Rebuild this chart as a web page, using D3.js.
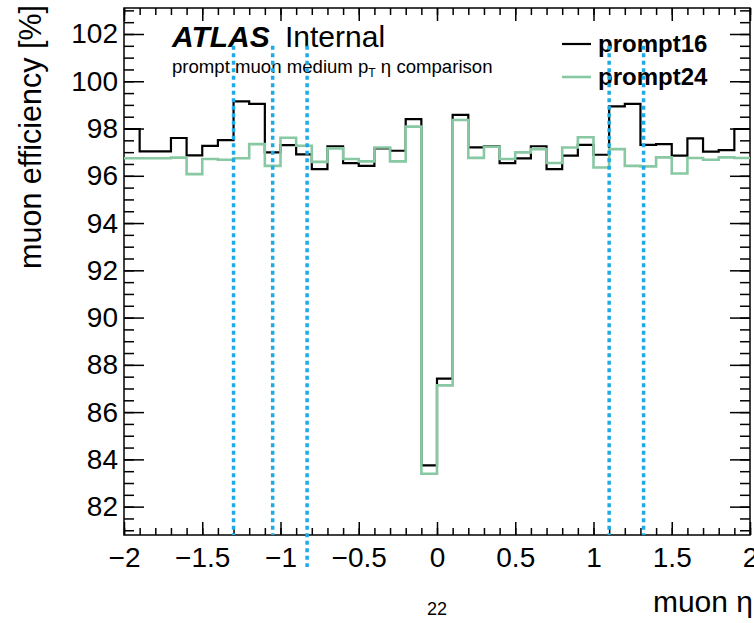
<!DOCTYPE html>
<html>
<head>
<meta charset="utf-8">
<script src="https://cdn.jsdelivr.net/npm/d3@7"></script>
<style>
body { margin: 0; background: white; }
text { font-family: "Liberation Sans", Arial, Helvetica, sans-serif; }
</style>
</head>
<body>
<svg id="svg"></svg>
<script>
// bins of muon eta (low edges, width 0.1)
var binLow = [-2.0, -1.9, -1.8, -1.7, -1.6, -1.5, -1.4, -1.3, -1.2, -1.1,
              -1.0, -0.9, -0.8, -0.7, -0.6, -0.5, -0.4, -0.3, -0.2, -0.1,
               0.0,  0.1,  0.2,  0.3,  0.4,  0.5,  0.6,  0.7,  0.8,  0.9,
               1.0,  1.1,  1.2,  1.3,  1.4,  1.5,  1.6,  1.7,  1.8,  1.9];
var binHigh = 2.0;

var prompt16 = [97.98, 97.03, 97.03, 97.60, 96.86, 97.27, 97.51, 99.15, 99.04, 96.99,
                97.30, 96.91, 96.28, 97.25, 96.54, 96.42, 97.16, 97.06, 98.40, 83.75,
                87.42, 98.58, 97.20, 97.25, 96.54, 96.74, 97.25, 96.28, 96.85, 97.31,
                96.89, 98.94, 99.04, 97.31, 97.34, 96.85, 97.58, 97.02, 97.09, 97.98];

var prompt24 = [96.74, 96.74, 96.74, 96.77, 96.07, 96.71, 96.68, 96.74, 97.34, 96.42,
                97.61, 97.27, 96.59, 97.16, 96.71, 96.61, 97.20, 96.61, 98.08, 83.39,
                87.13, 98.36, 96.76, 97.23, 96.71, 96.99, 97.13, 96.54, 97.20, 97.63,
                96.35, 97.13, 96.42, 96.40, 96.78, 96.10, 96.75, 96.68, 96.78, 96.75];

// dotted vertical lines
var cutEta = [-1.3, -1.05, -0.83, 1.1, 1.32];
var cutTop = [101.5, 101.5, 101.5, 101.5, 101.5];
var cutBottom = [80.8, 80.8, 79.45, 80.8, 80.8];

var xMajor = [-2, -1.5, -1, -0.5, 0, 0.5, 1, 1.5, 2];
var yMajor = [82, 84, 86, 88, 90, 92, 94, 96, 98, 100, 102];

var seriesNames = ["prompt16", "prompt24"];
var seriesColors = ["#000000", "#88c8a3"];

//////////////////////////////////////////////////////////////////////////////

var width = 754, height = 623;
var padLeft = 124, padRight = 750, padTop = 8, padBottom = 535;

var svg = d3.select("#svg")
    .attr("width", width)
    .attr("height", height);

var x = d3.scaleLinear().domain([-2, 2]).range([padLeft, padRight]);
var y = d3.scaleLinear().domain([80.8, 103.1]).range([padBottom, padTop]);

// minor ticks: 0.1 in eta, 0.5 in efficiency
var xMinor = x.ticks(40);
var yMinor = y.ticks(45).filter(function(v) { return v * 2 === Math.round(v * 2); });

var plainFmt = d3.format("");

function noLabels(ax) { return ax.tickFormat(""); }

function styleAxis(g) {
    g.select(".domain").remove();
    g.selectAll("line").attr("stroke", "black").attr("stroke-width", 1.5);
}

// bottom
svg.append("g").attr("transform", "translate(0," + padBottom + ")")
    .call(noLabels(d3.axisBottom(x).tickValues(xMinor).tickSize(-7))).call(styleAxis);
svg.append("g").attr("transform", "translate(0," + padBottom + ")")
    .call(d3.axisBottom(x).tickValues(xMajor).tickSize(-13).tickPadding(12).tickFormat(plainFmt))
    .call(styleAxis)
    .selectAll("text").attr("font-size", 28).attr("fill", "black")
    .attr("font-family", "Liberation Sans, Arial, sans-serif");
// top
svg.append("g").attr("transform", "translate(0," + padTop + ")")
    .call(noLabels(d3.axisTop(x).tickValues(xMinor).tickSize(-7))).call(styleAxis);
svg.append("g").attr("transform", "translate(0," + padTop + ")")
    .call(noLabels(d3.axisTop(x).tickValues(xMajor).tickSize(-13))).call(styleAxis);
// left
svg.append("g").attr("transform", "translate(" + padLeft + ",0)")
    .call(noLabels(d3.axisLeft(y).tickValues(yMinor).tickSize(-10))).call(styleAxis);
svg.append("g").attr("transform", "translate(" + padLeft + ",0)")
    .call(d3.axisLeft(y).tickValues(yMajor).tickSize(-20).tickPadding(6).tickFormat(plainFmt))
    .call(styleAxis)
    .selectAll("text").attr("font-size", 28).attr("fill", "black")
    .attr("font-family", "Liberation Sans, Arial, sans-serif");
// right
svg.append("g").attr("transform", "translate(" + padRight + ",0)")
    .call(noLabels(d3.axisRight(y).tickValues(yMinor).tickSize(-10))).call(styleAxis);
svg.append("g").attr("transform", "translate(" + padRight + ",0)")
    .call(noLabels(d3.axisRight(y).tickValues(yMajor).tickSize(-20))).call(styleAxis);

// frame
svg.append("rect")
    .attr("x", padLeft).attr("y", padTop)
    .attr("width", padRight - padLeft).attr("height", padBottom - padTop)
    .attr("fill", "none").attr("stroke", "black").attr("stroke-width", 1.5);

// histograms as steps
function stepPoints(values) {
    var pts = [];
    for (var i = 0; i < binLow.length; ++i) {
        pts.push([binLow[i], values[i]]);
    }
    pts.push([binHigh, values[values.length - 1]]);
    return pts;
}

var stepLine = d3.line()
    .x(function(d) { return x(d[0]); })
    .y(function(d) { return y(d[1]); })
    .curve(d3.curveStepAfter);

var allSeries = [prompt16, prompt24];
var widths = [2.2, 2.6];
for (var s = 0; s < allSeries.length; ++s) {
    svg.append("path")
        .attr("d", stepLine(stepPoints(allSeries[s])))
        .attr("fill", "none")
        .attr("stroke", seriesColors[s])
        .attr("stroke-width", widths[s]);
}

// texts
svg.append("text").attr("x", 172).attr("y", 47).attr("font-size", 30)
    .attr("font-weight", "bold").attr("font-style", "italic").text("ATLAS");
svg.append("text").attr("x", 285).attr("y", 47).attr("font-size", 30)
    .text("Internal");

var sub = svg.append("text").attr("x", 172).attr("y", 73).attr("font-size", 18.6);
sub.append("tspan").text("prompt muon medium p");
sub.append("tspan").attr("font-size", 12).attr("dy", 4).text("T");
sub.append("tspan").attr("dy", -4).text(" \u03b7 comparison");

// legend
var legendY = [44, 77];
for (var k = 0; k < seriesNames.length; ++k) {
    svg.append("line")
        .attr("x1", 562).attr("x2", 591)
        .attr("y1", legendY[k]).attr("y2", legendY[k])
        .attr("stroke", seriesColors[k]).attr("stroke-width", widths[k]);
    svg.append("text")
        .attr("x", 598).attr("y", legendY[k] + 8)
        .attr("font-size", 24).attr("font-weight", "bold")
        .text(seriesNames[k]);
}

// cut lines
svg.selectAll("line.cut")
    .data(cutEta)
    .enter()
    .append("line")
    .attr("class", "cut")
    .attr("x1", function(d) { return x(d); })
    .attr("x2", function(d) { return x(d); })
    .attr("y1", function(d, i) { return y(cutTop[i]); })
    .attr("y2", function(d, i) { return y(cutBottom[i]); })
    .attr("stroke", "#1eaae6")
    .attr("stroke-width", 3.5)
    .attr("stroke-dasharray", "4,3.5");

// axis titles
svg.append("text")
    .attr("transform", "translate(41," + 5 + ") rotate(-90)")
    .attr("text-anchor", "end")
    .attr("font-size", 30.5)
    .text("muon efficiency [%]");

svg.append("text")
    .attr("x", 753).attr("y", 612)
    .attr("text-anchor", "end")
    .attr("font-size", 30)
    .text("muon \u03b7");

svg.append("text")
    .attr("x", 437).attr("y", 615)
    .attr("text-anchor", "middle")
    .attr("font-size", 18)
    .text("22");
</script>
</body>
</html>
